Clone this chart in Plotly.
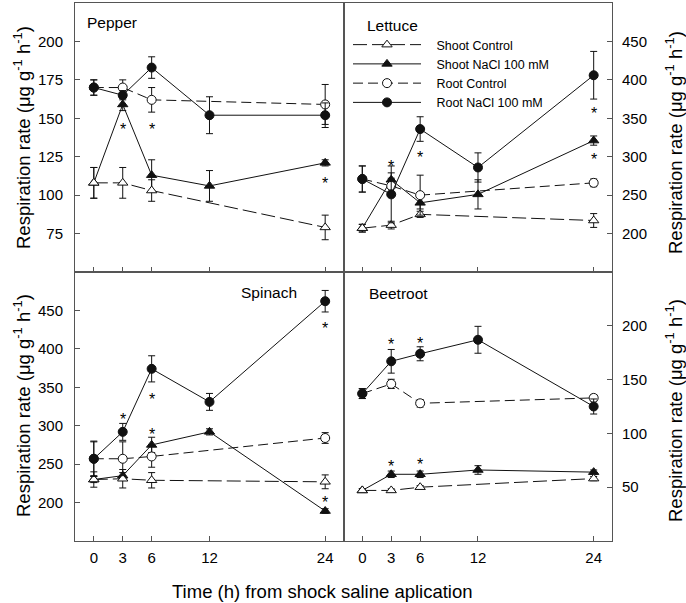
import plotly.graph_objects as go

# ---------------- data ----------------
hours = [0, 3, 6, 12, 24]          # NaCl series
ctrl_hours = [0, 3, 6, 24]         # control series

pepper_sc = [108, 108, 103, 79]
pepper_sc_err = [10, 10, 7, 8]
pepper_sn = [108, 159, 113, 106, 121]
pepper_sn_err = [10, 4, 10, 10, 2]
pepper_rc = [170, 170, 162, 159]
pepper_rc_err = [5, 5, 8, 13]
pepper_rn = [170, 165, 183, 152, 152]
pepper_rn_err = [5, 3, 7, 12, 8]
pepper_star_x = [3, 6, 24]
pepper_star_y = [145, 145, 110]

lettuce_sc = [207, 211, 225, 217]
lettuce_sc_err = [5, 5, 4, 9]
lettuce_sn = [207, 270, 240, 251, 321]
lettuce_sn_err = [5, 9, 8, 19, 6]
lettuce_rc = [271, 262, 250, 266]
lettuce_rc_err = [17, 10, 26, 5]
lettuce_rn = [271, 251, 336, 286, 406]
lettuce_rn_err = [17, 37, 16, 19, 31]
lettuce_star_x = [3, 6, 24, 24]
lettuce_star_y = [293, 304, 361, 302]

spinach_sc = [230, 231, 229, 227]
spinach_sc_err = [10, 12, 10, 9]
spinach_sn = [230, 235, 275, 292, 189]
spinach_sn_err = [4, 4, 10, 4, 3]
spinach_rc = [257, 257, 260, 284]
spinach_rc_err = [22, 22, 14, 7]
spinach_rn = [257, 292, 374, 331, 462]
spinach_rn_err = [23, 11, 17, 11, 14]
spinach_star_x = [3, 6, 6, 24, 24]
spinach_star_y = [313, 339, 294, 432, 205]

beet_sc = [47, 47, 50, 58]
beet_sc_err = [1.5, 1.5, 1.5, 2]
beet_sn = [47, 62, 62, 66, 64]
beet_sn_err = [1.5, 3, 3, 4, 2]
beet_rc = [137, 146, 128, 133]
beet_rc_err = [4.6, 4.3, 3.5, 3]
beet_rn = [137, 167, 174, 187, 125]
beet_rn_err = [4.6, 11, 6.5, 12.5, 7]
beet_star_x = [3, 6, 3, 6]
beet_star_y = [186, 187, 73, 75]

series_names = ["Shoot Control", "Shoot NaCl 100 mM", "Root Control", "Root NaCl 100 mM"]
panel_names = ["Pepper", "Lettuce", "Spinach", "Beetroot"]
x_ticks = [0, 3, 6, 12, 24]
pepper_ticks = [75, 100, 125, 150, 175, 200]
lettuce_ticks = [200, 250, 300, 350, 400, 450]
spinach_ticks = [200, 250, 300, 350, 400, 450]
beet_ticks = [50, 100, 150, 200]

FONT = "Liberation Sans, Arial, sans-serif"
INK = "#000000"
AX = "#555555"
PAD = "\u00a0\u00a0\u00a0"

panels = [
    dict(name=panel_names[0], xa="x", ya="y",
         sc=pepper_sc, sce=pepper_sc_err, sn=pepper_sn, sne=pepper_sn_err,
         rc=pepper_rc, rce=pepper_rc_err, rn=pepper_rn, rne=pepper_rn_err,
         sx=pepper_star_x, sy=pepper_star_y),
    dict(name=panel_names[1], xa="x2", ya="y2",
         sc=lettuce_sc, sce=lettuce_sc_err, sn=lettuce_sn, sne=lettuce_sn_err,
         rc=lettuce_rc, rce=lettuce_rc_err, rn=lettuce_rn, rne=lettuce_rn_err,
         sx=lettuce_star_x, sy=lettuce_star_y),
    dict(name=panel_names[2], xa="x3", ya="y3",
         sc=spinach_sc, sce=spinach_sc_err, sn=spinach_sn, sne=spinach_sn_err,
         rc=spinach_rc, rce=spinach_rc_err, rn=spinach_rn, rne=spinach_rn_err,
         sx=spinach_star_x, sy=spinach_star_y),
    dict(name=panel_names[3], xa="x4", ya="y4",
         sc=beet_sc, sce=beet_sc_err, sn=beet_sn, sne=beet_sn_err,
         rc=beet_rc, rce=beet_rc_err, rn=beet_rn, rne=beet_rn_err,
         sx=beet_star_x, sy=beet_star_y),
]

fig = go.Figure()


def err(arr):
    return dict(type="data", array=arr, visible=True, color="#111111", thickness=1, width=3.5)


for i, p in enumerate(panels):
    show = (i == 1)
    # draw order: Shoot NaCl, Shoot Control, Root Control, Root NaCl
    fig.add_trace(go.Scatter(
        x=hours, y=p["sn"], error_y=err(p["sne"]), mode="lines+markers",
        name=PAD + series_names[1], legendgroup="sn", showlegend=show, legendrank=2,
        line=dict(color="#111111", width=1),
        marker=dict(symbol="triangle-up", size=9, color="#111111", line=dict(color="#111111", width=1)),
        xaxis=p["xa"], yaxis=p["ya"]))
    fig.add_trace(go.Scatter(
        x=ctrl_hours, y=p["sc"], error_y=err(p["sce"]), mode="lines+markers",
        name=PAD + series_names[0], legendgroup="sc", showlegend=show, legendrank=1,
        line=dict(color="#111111", width=1, dash="14px,5px"),
        marker=dict(symbol="triangle-up", size=9, color="white", line=dict(color="#111111", width=1)),
        xaxis=p["xa"], yaxis=p["ya"]))
    fig.add_trace(go.Scatter(
        x=ctrl_hours, y=p["rc"], error_y=err(p["rce"]), mode="lines+markers",
        name=PAD + series_names[2], legendgroup="rc", showlegend=show, legendrank=3,
        line=dict(color="#111111", width=1, dash="10px,5px"),
        marker=dict(symbol="circle", size=9, color="white", line=dict(color="#111111", width=1)),
        xaxis=p["xa"], yaxis=p["ya"]))
    fig.add_trace(go.Scatter(
        x=hours, y=p["rn"], error_y=err(p["rne"]), mode="lines+markers",
        name=PAD + series_names[3], legendgroup="rn", showlegend=show, legendrank=4,
        line=dict(color="#111111", width=1),
        marker=dict(symbol="circle", size=9, color="#111111", line=dict(color="#111111", width=1)),
        xaxis=p["xa"], yaxis=p["ya"]))

annotations = []
for p in panels:
    for sx, sy in zip(p["sx"], p["sy"]):
        annotations.append(dict(x=sx, y=sy, xref=p["xa"], yref=p["ya"], text="*",
                                showarrow=False, yshift=-4,
                                font=dict(family=FONT, size=16, color=INK)))

label_pos = [(0.037, 0.927), (0.081, 0.918), (0.609, 0.922), (0.087, 0.920)]
for p, (lx, ly) in zip(panels, label_pos):
    annotations.append(dict(x=lx, y=ly, xref=p["xa"] + " domain", yref=p["ya"] + " domain",
                            text=p["name"], showarrow=False, xanchor="left", yanchor="middle",
                            font=dict(family=FONT, size=15.5, color=INK)))

ytitle = "Respiration rate (μg g<sup>-1</sup> h<sup>-1</sup>)"
W, H = 686, 603
L, R, T, B = 75, 74, 3, 62
pw, ph = W - L - R, H - T - B


def px2paper_x(px):
    return (px - L) / pw


def px2paper_y(py):
    return (H - B - py) / ph


for tx, ty in [(22, 138), (22, 406), (674, 143), (674, 411)]:
    annotations.append(dict(x=px2paper_x(tx), y=px2paper_y(ty), xref="paper", yref="paper",
                            text=ytitle, textangle=-90, showarrow=False,
                            xanchor="center", yanchor="middle",
                            font=dict(family=FONT, size=18.5, color=INK)))

annotations.append(dict(x=px2paper_x(322), y=px2paper_y(591), xref="paper", yref="paper",
                        text="Time (h) from shock saline aplication", showarrow=False,
                        xanchor="center", yanchor="middle",
                        font=dict(family=FONT, size=18.5, color=INK)))

xcommon = dict(range=[-1.95, 25.9], tickvals=x_ticks, ticks="inside", ticklen=5,
               tickcolor=AX, showline=True, linecolor=AX, linewidth=1, mirror=True,
               showgrid=False, zeroline=False, ticklabelstandoff=3,
               tickfont=dict(family=FONT, size=15, color=INK))
ycommon = dict(ticks="inside", ticklen=5, tickcolor=AX, showline=True, linecolor=AX,
               linewidth=1, mirror=True, showgrid=False, zeroline=False,
               tickfont=dict(family=FONT, size=15, color=INK))

fig.update_layout(
    width=W, height=H,
    margin=dict(l=L, r=R, t=T, b=B),
    paper_bgcolor="white", plot_bgcolor="white",
    font=dict(family=FONT, color=INK),
    showlegend=True,
    legend=dict(x=px2paper_x(348), y=px2paper_y(30), xanchor="left", yanchor="top",
                bgcolor="rgba(0,0,0,0)", itemwidth=68,
                font=dict(family=FONT, size=12.5, color=INK), traceorder="normal"),
    xaxis=dict(domain=[0, 0.5], anchor="y", showticklabels=False, **xcommon),
    yaxis=dict(domain=[0.5, 1], anchor="x", range=[50, 225], tickvals=pepper_ticks,
               side="left", ticklabelstandoff=8, **ycommon),
    xaxis2=dict(domain=[0.5, 1], anchor="y2", showticklabels=False, **xcommon),
    yaxis2=dict(domain=[0.5, 1], anchor="x2", range=[150, 500], tickvals=lettuce_ticks,
                side="right", ticklabelstandoff=6, **ycommon),
    xaxis3=dict(domain=[0, 0.5], anchor="y3", showticklabels=True, **xcommon),
    yaxis3=dict(domain=[0, 0.5], anchor="x3", range=[150, 500], tickvals=spinach_ticks,
                side="left", ticklabelstandoff=8, **ycommon),
    xaxis4=dict(domain=[0.5, 1], anchor="y4", showticklabels=True, **xcommon),
    yaxis4=dict(domain=[0, 0.5], anchor="x4", range=[0, 250], tickvals=beet_ticks,
                side="right", ticklabelstandoff=6, **ycommon),
    annotations=annotations,
)

fig.write_html("out.html", config={"displayModeBar": False},
               post_script="document.body.style.margin='0px';")
